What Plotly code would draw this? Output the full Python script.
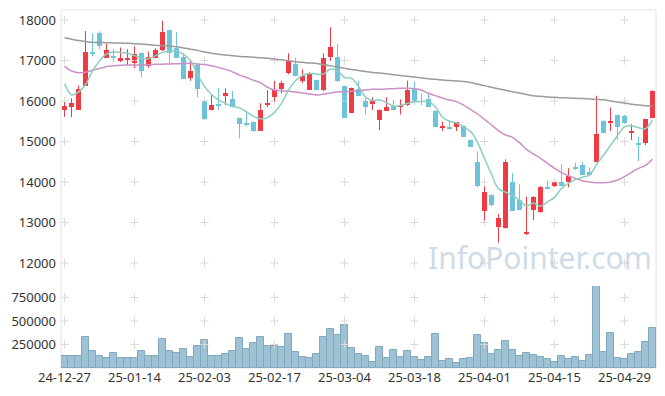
import plotly.graph_objects as go

dates = ["24-12-27","24-12-30","25-01-02","25-01-03","25-01-06","25-01-07","25-01-08","25-01-09","25-01-10","25-01-13",
         "25-01-14","25-01-15","25-01-16","25-01-17","25-01-20","25-01-21","25-01-22","25-01-23","25-01-24","25-01-31",
         "25-02-03","25-02-04","25-02-05","25-02-06","25-02-07","25-02-10","25-02-11","25-02-12","25-02-13","25-02-14",
         "25-02-17","25-02-18","25-02-19","25-02-20","25-02-21","25-02-24","25-02-25","25-02-26","25-02-27","25-02-28",
         "25-03-04","25-03-05","25-03-06","25-03-07","25-03-10","25-03-11","25-03-12","25-03-13","25-03-14","25-03-17",
         "25-03-18","25-03-19","25-03-20","25-03-21","25-03-24","25-03-25","25-03-26","25-03-27","25-03-28","25-03-31",
         "25-04-01","25-04-02","25-04-03","25-04-04","25-04-07","25-04-08","25-04-09","25-04-10","25-04-11","25-04-14",
         "25-04-15","25-04-16","25-04-17","25-04-18","25-04-21","25-04-22","25-04-23","25-04-24","25-04-25","25-04-28",
         "25-04-29","25-04-30","25-05-02","25-05-07","25-05-08"]

opens = [15790,15850,15790,16380,17210,17680,17070,17110,16980,17020,
         16930,17190,16870,17070,17250,17750,17320,17080,16560,16900,
         16000,15780,15910,16130,16050,15580,15440,15480,15270,15890,
         16110,16300,16680,16910,16500,16280,16520,16260,17080,17080,
         16370,15710,16290,15990,15930,15530,15760,15880,15840,15890,
         16290,16000,16050,15760,15350,15370,15370,15390,15040,14500,
         13290,13680,12900,12860,13990,13560,12740,13310,13250,13870,
         13890,13990,13990,14360,14420,14240,14500,15510,15480,15660,
         15620,15230,14940,14970,15590]
highs = [15970,16070,16380,17730,17670,17720,17420,17280,17320,17280,
         17350,17200,17220,17300,17980,17760,17700,17180,17000,16910,
         16000,16160,16310,16310,16250,15590,15760,15490,15940,16270,
         16500,16500,17180,17070,16780,16720,16530,17180,17820,17410,
         16380,16330,16500,16070,16090,15790,16090,16030,16040,16500,
         16480,16190,16170,15770,15490,15530,15480,15400,15050,14750,
         13890,13690,13210,14560,14220,13940,13640,13650,13900,14030,
         14000,14440,14340,14480,14500,14360,16130,15520,15840,15660,
         15660,15430,15120,15560,16260]
lows = [15610,15600,15780,16370,17100,17270,17060,16970,16960,16880,
        16810,16590,16820,17050,17230,16930,17060,16540,16500,16090,
        15540,15770,15780,15900,15840,15080,15370,15240,15260,15850,
        15990,16190,16660,16610,16440,16270,16260,16240,16990,16470,
        15580,15700,16120,15670,15780,15280,15750,15770,15670,15880,
        15970,15900,15850,15360,15260,15290,15260,15110,14860,13870,
        13050,13400,12500,12850,13280,13300,12690,13060,13240,13820,
        13880,13900,13870,14300,14170,14170,14490,15210,15260,15040,
        15440,15040,14520,14910,15580]
closes = [15880,15940,16300,17210,17160,17370,17260,17070,17050,17050,
          17160,16730,17080,17260,17700,17180,17070,16550,16730,16290,
          15550,15890,15890,16190,15850,15420,15420,15250,15780,15950,
          16270,16440,16990,16620,16610,16670,16270,17070,17340,16500,
          15590,16310,16130,15860,15990,15780,15840,15780,15900,16270,
          15990,15980,15860,15370,15390,15300,15470,15120,14870,13890,
          13750,13420,13100,14500,13290,13310,12760,13640,13870,13850,
          13990,13910,14150,14310,14180,14180,15190,15220,15510,15370,
          15450,15270,14930,15550,16250]
ma5 = [16430,16150,16220,16400,16740,16990,17160,17210,17200,17180,
       17120,17060,17050,17120,17200,17230,17240,17150,17000,16660,
       16360,16160,16030,15940,15870,15830,15730,15620,15560,15590,
       15720,15940,16270,16500,16630,16680,16660,16670,16790,16750,
       16580,16560,16360,16100,16010,16030,15960,15870,15890,15940,
       15980,15990,15990,15850,15600,15500,15460,15350,15250,14980,
       14580,14190,13830,13750,13660,13550,13410,13480,13400,13510,
       13620,13840,13970,14060,14120,14170,14430,14660,14900,15150,
       15360,15390,15340,15320,15530]
ma20 = [16860,16740,16700,16710,16760,16800,16850,16870,16885,16890,
        16890,16890,16895,16905,16910,16915,16920,16925,16930,16915,
        16900,16870,16830,16780,16720,16640,16580,16510,16450,16340,
        16272,16255,16240,16222,16198,16173,16150,16165,16198,16222,
        16230,16240,16255,16272,16288,16288,16297,16305,16313,16313,
        16305,16272,16190,16132,16075,16025,15984,15900,15794,15679,
        15547,15407,15267,15160,15103,14971,14806,14691,14584,14461,
        14337,14230,14156,14090,14033,14000,13983,13983,14000,14049,
        14132,14239,14337,14411,14560]
ma60 = [17560,17525,17495,17470,17450,17445,17440,17435,17430,17425,
        17415,17405,17395,17375,17365,17355,17340,17310,17280,17250,
        17210,17180,17155,17135,17115,17100,17090,17080,17070,17055,
        17040,17020,16995,16970,16955,16940,16925,16900,16870,16840,
        16810,16780,16755,16730,16705,16690,16670,16650,16630,16610,
        16590,16570,16550,16535,16520,16505,16495,16480,16455,16415,
        16380,16340,16300,16265,16230,16195,16160,16130,16115,16100,
        16090,16080,16075,16065,16060,16050,16040,16030,16000,15975,
        15950,15920,15900,15885,15875]
volumes = [131000,124000,124000,333000,177000,124000,103000,156000,103000,103000,
           103000,177000,124000,131000,305000,177000,156000,199000,113000,230000,
           294000,131000,124000,145000,177000,316000,199000,262000,333000,230000,
           230000,220000,358000,167000,113000,103000,145000,326000,411000,348000,
           454000,209000,145000,131000,60000,220000,103000,188000,113000,177000,
           113000,81000,113000,358000,71000,92000,50000,92000,103000,348000,
           262000,145000,188000,284000,188000,124000,156000,135000,113000,92000,
           60000,124000,92000,113000,71000,135000,869000,167000,369000,103000,
           92000,145000,167000,273000,422000]

price_ticks = [12000, 13000, 14000, 15000, 16000, 17000, 18000]
volume_ticks = [250000, 500000, 750000]
date_ticks = dates[::10]

UP = "#ee3b44"
DOWN = "#6cc3da"

fig = go.Figure()

# grid crosses (behind the marks)
cx, cy = [], []
for d in date_ticks:
    for p in price_ticks:
        cx.append(d); cy.append(p)
fig.add_trace(go.Scatter(x=cx, y=cy, mode="markers",
                         marker=dict(symbol="cross-thin", size=6, line=dict(color="#d9d9d9", width=1)),
                         xaxis="x", yaxis="y", hoverinfo="skip", showlegend=False))
vx, vy = [], []
for d in date_ticks:
    for v in volume_ticks:
        vx.append(d); vy.append(v)
fig.add_trace(go.Scatter(x=vx, y=vy, mode="markers",
                         marker=dict(symbol="cross-thin", size=6, line=dict(color="#d9d9d9", width=1)),
                         xaxis="x2", yaxis="y2", hoverinfo="skip", showlegend=False))

for is_up, col in ((True, UP), (False, DOWN)):
    idx = [i for i in range(len(dates)) if (closes[i] >= opens[i]) == is_up]
    wx, wy = [], []
    for i in idx:
        wx += [dates[i], dates[i], None]
        wy += [lows[i], highs[i], None]
    fig.add_trace(go.Scatter(x=wx, y=wy, mode="lines", line=dict(color=col, width=1),
                             xaxis="x", yaxis="y", hoverinfo="skip", showlegend=False))
    fig.add_trace(go.Bar(x=[dates[i] for i in idx],
                         base=[min(opens[i], closes[i]) for i in idx],
                         y=[max(abs(closes[i] - opens[i]), 18) for i in idx],
                         width=0.76, marker=dict(color=col, line=dict(width=0)),
                         xaxis="x", yaxis="y", showlegend=False))

fig.add_trace(go.Scatter(x=dates, y=ma60, mode="lines", line=dict(color="#9b9b9b", width=1.5, shape="spline"),
                         xaxis="x", yaxis="y", showlegend=False))
fig.add_trace(go.Scatter(x=dates, y=ma20, mode="lines", line=dict(color="#cc8fc8", width=1.5, shape="spline"),
                         xaxis="x", yaxis="y", showlegend=False))
fig.add_trace(go.Scatter(x=dates, y=ma5, mode="lines", line=dict(color="#8ccfc1", width=1.5, shape="spline"),
                         xaxis="x", yaxis="y", showlegend=False))

fig.add_trace(go.Bar(x=dates, y=volumes, width=1.0,
                     marker=dict(color="rgba(120,170,195,0.72)", line=dict(color="#80a9be", width=1)),
                     xaxis="x2", yaxis="y2", showlegend=False))

font = dict(family="Noto Sans, DejaVu Sans, sans-serif", size=13, color="#333333")

fig.update_layout(
    width=665, height=396,
    margin=dict(l=53, r=17, t=2, b=36),
    paper_bgcolor="white", plot_bgcolor="white",
    barmode="overlay", bargap=0,
    font=font,
    xaxis=dict(type="category", categoryorder="array", categoryarray=dates,
               domain=[0, 1], anchor="y", range=[-0.5, len(dates) - 0.5],
               showticklabels=False, showgrid=False, zeroline=False, ticks=""),
    xaxis2=dict(type="category", categoryorder="array", categoryarray=dates,
                domain=[0, 1], anchor="y2", range=[-0.5, len(dates) - 0.5],
                tickmode="array", tickvals=date_ticks, ticktext=date_ticks, tickangle=0,
                showgrid=False, zeroline=False, ticks="", tickfont=font, automargin=False),
    yaxis=dict(domain=[0.2374, 1], range=[11506, 18247], tickmode="array", tickvals=price_ticks,
               tickformat="d", showgrid=False, zeroline=False, ticks="", tickfont=font,
               ticklabelstandoff=4, automargin=False),
    yaxis2=dict(domain=[0, 0.229], range=[0, 872300], tickmode="array", tickvals=volume_ticks,
                tickformat="d", showgrid=False, zeroline=False, ticks="", tickfont=font,
                ticklabelstandoff=4, automargin=False),
    shapes=[dict(type="rect", xref="paper", yref="paper", x0=0, x1=1, y0=0, y1=1,
                 line=dict(color="#e4e4e4", width=1), layer="below")],
    annotations=[dict(text="InfoPointer.com", xref="paper", yref="paper", x=0.805, y=0.31,
                      xanchor="center", yanchor="middle",
                      showarrow=False, font=dict(family="Noto Sans, sans-serif", size=30,
                                                 color="rgba(160,190,212,0.55)"))],
)

fig.write_html("out.html")
